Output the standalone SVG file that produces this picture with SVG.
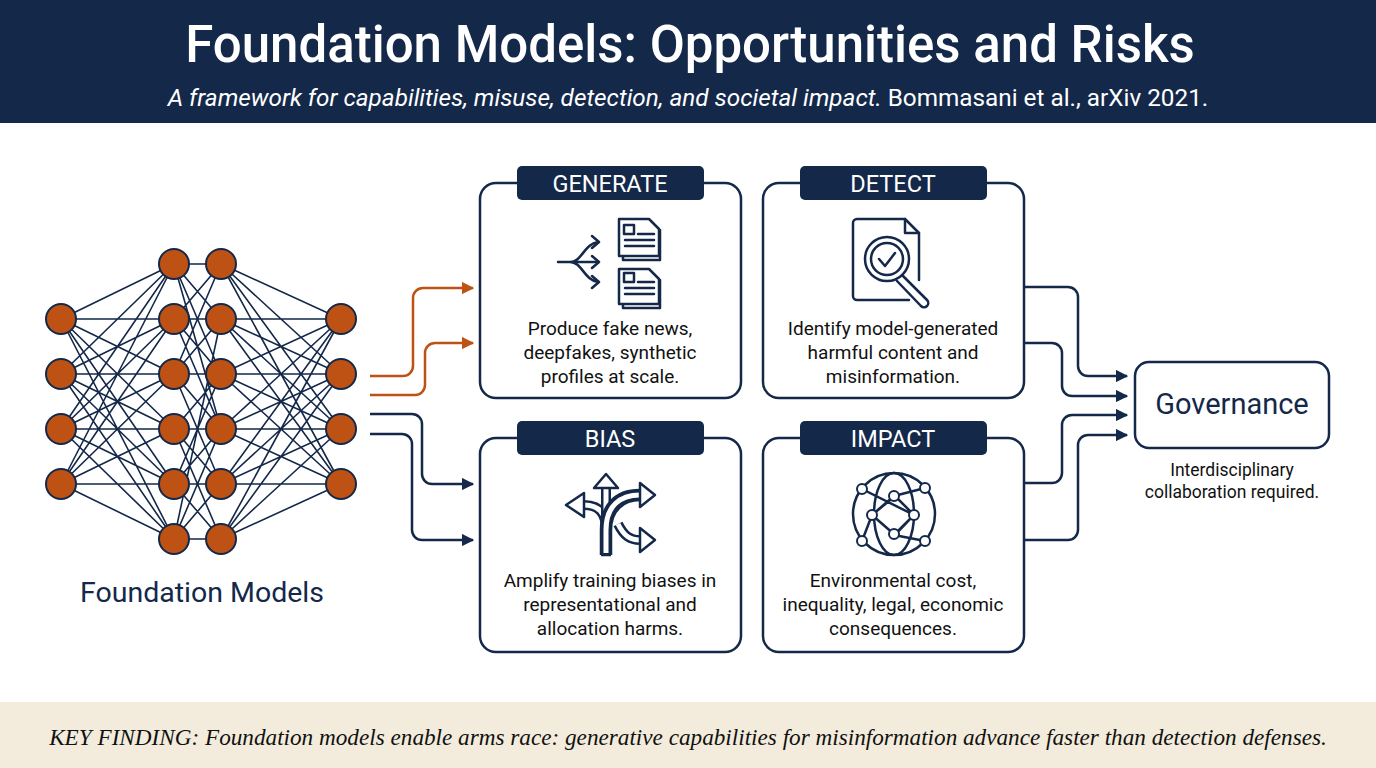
<svg xmlns="http://www.w3.org/2000/svg" width="1376" height="768" viewBox="0 0 1376 768">
<defs>
<style>
.t{font-family:Roboto,"Liberation Sans",sans-serif}
.box{fill:#fff;stroke:#14284a;stroke-width:2.5}
.tab{fill:#14284a}
.tabt{font-family:Roboto,"Liberation Sans",sans-serif;font-size:23.5px;fill:#fff;text-anchor:middle}
.body{font-family:Roboto,"Liberation Sans",sans-serif;font-size:19px;fill:#111;text-anchor:middle}
.ic{fill:none;stroke:#14284a;stroke-width:2.5;stroke-linejoin:round;stroke-linecap:round}
.nl{stroke:#14284a;stroke-width:1.6}
.nd{fill:#bd5214;stroke:#14284a;stroke-width:2}
.cn{fill:none;stroke:#14284a;stroke-width:2.5}
.co{fill:none;stroke:#bd5214;stroke-width:2.5}
.bo{fill:none;stroke:#14284a;stroke-width:10}
.bi{fill:none;stroke:#fff;stroke-width:5}
.bh{fill:#fff;stroke:#14284a;stroke-width:2.5;stroke-linejoin:round}
</style>
<marker id="an" viewBox="0 0 10 10" refX="9" refY="5" markerWidth="5" markerHeight="5" orient="auto" markerUnits="strokeWidth"><path d="M0,0L10,5L0,10z" fill="#14284a"/></marker>
<marker id="ao" viewBox="0 0 10 10" refX="9" refY="5" markerWidth="5" markerHeight="5" orient="auto" markerUnits="strokeWidth"><path d="M0,0L10,5L0,10z" fill="#bd5214"/></marker>
</defs>
<rect width="1376" height="768" fill="#fff"/>
<rect width="1376" height="123" fill="#14284a"/>
<text class="t" x="690" y="62" font-size="51" font-weight="500" fill="#fff" text-anchor="middle">Foundation Models: Opportunities and Risks</text>
<text class="t" x="688" y="106" font-size="24.3" fill="#fff" text-anchor="middle"><tspan font-style="italic">A framework for capabilities, misuse, detection, and societal impact.</tspan> Bommasani et al., arXiv 2021.</text>
<rect y="702" width="1376" height="66" fill="#f3ecdc"/>
<text x="688" y="745" font-family="'Liberation Serif',serif" font-style="italic" font-size="23.2" fill="#111" text-anchor="middle">KEY FINDING: Foundation models enable arms race: generative capabilities for misinformation advance faster than detection defenses.</text>

<g id="network">
<g>
<path class="nl" d="M61,319L174,264M61,319L174,319M61,319L174,374M61,319L174,429M61,319L174,484M61,319L174,539M61,374L174,264M61,374L174,319M61,374L174,374M61,374L174,429M61,374L174,484M61,374L174,539M61,429L174,264M61,429L174,319M61,429L174,374M61,429L174,429M61,429L174,484M61,429L174,539M61,484L174,264M61,484L174,319M61,484L174,374M61,484L174,429M61,484L174,484M61,484L174,539"/>
<path class="nl" d="M174,264L221,264M174,264L221,319M174,264L221,374M174,319L221,264M174,319L221,319M174,319L221,374M174,319L221,429M174,374L221,319M174,374L221,374M174,374L221,429M174,374L221,484M174,374L221,264M174,429L221,374M174,429L221,429M174,429L221,484M174,429L221,539M174,484L221,429M174,484L221,484M174,484L221,539M174,484L221,374M174,539L221,539M174,539L221,484M174,539L221,429M174,264L221,429M174,539L221,319"/>
<path class="nl" d="M341,319L221,264M341,319L221,319M341,319L221,374M341,319L221,429M341,319L221,484M341,319L221,539M341,374L221,264M341,374L221,319M341,374L221,374M341,374L221,429M341,374L221,484M341,374L221,539M341,429L221,264M341,429L221,319M341,429L221,374M341,429L221,429M341,429L221,484M341,429L221,539M341,484L221,264M341,484L221,319M341,484L221,374M341,484L221,429M341,484L221,484M341,484L221,539"/>
</g>
<g>
<circle class="nd" cx="61" cy="319" r="15"/><circle class="nd" cx="61" cy="374" r="15"/><circle class="nd" cx="61" cy="429" r="15"/><circle class="nd" cx="61" cy="484" r="15"/>
<circle class="nd" cx="174" cy="264" r="15"/><circle class="nd" cx="174" cy="319" r="15"/><circle class="nd" cx="174" cy="374" r="15"/><circle class="nd" cx="174" cy="429" r="15"/><circle class="nd" cx="174" cy="484" r="15"/><circle class="nd" cx="174" cy="539" r="15"/>
<circle class="nd" cx="221" cy="264" r="15"/><circle class="nd" cx="221" cy="319" r="15"/><circle class="nd" cx="221" cy="374" r="15"/><circle class="nd" cx="221" cy="429" r="15"/><circle class="nd" cx="221" cy="484" r="15"/><circle class="nd" cx="221" cy="539" r="15"/>
<circle class="nd" cx="341" cy="319" r="15"/><circle class="nd" cx="341" cy="374" r="15"/><circle class="nd" cx="341" cy="429" r="15"/><circle class="nd" cx="341" cy="484" r="15"/>
</g>
<text class="t" x="202" y="602" font-size="28.5" fill="#14284a" text-anchor="middle">Foundation Models</text>
</g>

<g id="connectors">
<path class="co" d="M370,376H403a10,10 0 0 0 10,-10V298a10,10 0 0 1 10,-10H473" marker-end="url(#ao)"/>
<path class="co" d="M370,395H415a10,10 0 0 0 10,-10V353a10,10 0 0 1 10,-10H473" marker-end="url(#ao)"/>
<path class="cn" d="M370,414H412a10,10 0 0 1 10,10V474a10,10 0 0 0 10,10H473" marker-end="url(#an)"/>
<path class="cn" d="M370,434H402a10,10 0 0 1 10,10V530a10,10 0 0 0 10,10H473" marker-end="url(#an)"/>
<path class="cn" d="M1024,287H1068a10,10 0 0 1 10,10V366a10,10 0 0 0 10,10H1127" marker-end="url(#an)"/>
<path class="cn" d="M1024,343H1052a10,10 0 0 1 10,10V386a10,10 0 0 0 10,10H1127" marker-end="url(#an)"/>
<path class="cn" d="M1024,483H1052a10,10 0 0 0 10,-10V425a10,10 0 0 1 10,-10H1127" marker-end="url(#an)"/>
<path class="cn" d="M1024,540H1068a10,10 0 0 0 10,-10V445a10,10 0 0 1 10,-10H1127" marker-end="url(#an)"/>
</g>

<g id="generate">
<rect class="box" x="480" y="183" width="261" height="215" rx="16"/>
<rect class="tab" x="517" y="166" width="187" height="34" rx="5"/>
<text class="tabt" x="610" y="192">GENERATE</text>
<g class="ic">
<path d="M558,262H570C582,262 584,244 598,242M570,262H598M570,262C582,262 584,280 598,282"/>
<path d="M592,236L599,242L592,248M592,256L599,262L592,268M592,276L599,282L592,288"/>
<path d="M619,219H649L659,229V256H619Z M623,257V260H660V230"/>
<rect x="624" y="225" width="10" height="9"/><path d="M638,234H654M625,240H654M625,246H654"/>
<path d="M619,269H649L659,279V304H619Z M623,305V308H660V280"/>
<rect x="624" y="273" width="10" height="9"/><path d="M638,282H654M625,288H654M625,294H654"/>
</g>
<text class="body" x="610" y="335">Produce fake news,</text>
<text class="body" x="610" y="359">deepfakes, synthetic</text>
<text class="body" x="610" y="383">profiles at scale.</text>
</g>

<g id="detect">
<rect class="box" x="763" y="183" width="261" height="215" rx="16"/>
<rect class="tab" x="800" y="166" width="187" height="34" rx="5"/>
<text class="tabt" x="893" y="192">DETECT</text>
<g class="ic">
<path d="M909,300H857a4,4 0 0 1 -4,-4V223a4,4 0 0 1 4,-4H905L919,233V280"/>
<path d="M905,219V233H919"/>
<circle cx="887" cy="259" r="22"/><circle cx="887" cy="259" r="16"/>
<path d="M879,259L885,266L895,253"/>
<path d="M902,275L927,300a4,4 0 0 1 -6,6L897,281"/>
</g>
<text class="body" x="893" y="335">Identify model-generated</text>
<text class="body" x="893" y="359">harmful content and</text>
<text class="body" x="893" y="383">misinformation.</text>
</g>

<g id="bias">
<rect class="box" x="480" y="438" width="261" height="214" rx="16"/>
<rect class="tab" x="517" y="421" width="187" height="34" rx="5"/>
<text class="tabt" x="610" y="447">BIAS</text>
<path class="bo" d="M606,530C606,512 598,505 584,505"/>
<path class="bi" d="M606,530C606,512 598,505 584,505"/>
<path class="bo" d="M606,488V545"/>
<path class="bi" d="M606,488V545"/>
<path class="bo" d="M618,524C624,536 630,540 640,540"/>
<path class="bi" d="M618,524C624,536 630,540 640,540"/>
<path class="bo" d="M606,555V530C606,506 620,495 640,495"/>
<path class="bi" d="M606,553V530C606,506 620,495 640,495"/>
<path d="M601,555V530C601,506 614,490 640,490M611,555V530C611,510 624,500 640,500M601,555H611" fill="none" stroke="#14284a" stroke-width="2.5"/>
<polygon class="bh" points="594,488 606,474 618,488"/>
<polygon class="bh" points="584,493 566,505 584,517"/>
<polygon class="bh" points="640,483 655,495 640,507"/>
<polygon class="bh" points="640,528 655,540 640,552"/>
<text class="body" x="610" y="587">Amplify training biases in</text>
<text class="body" x="610" y="611">representational and</text>
<text class="body" x="610" y="635">allocation harms.</text>
</g>

<g id="impact">
<rect class="box" x="763" y="438" width="261" height="214" rx="16"/>
<rect class="tab" x="800" y="421" width="187" height="34" rx="5"/>
<text class="tabt" x="893" y="447">IMPACT</text>
<g class="ic">
<circle cx="894" cy="514" r="41"/>
<ellipse cx="894" cy="514" rx="20" ry="41"/>
<path d="M862,489L914,515L895,535L872,515L894,496L925,488M862,541L872,515L895,496L914,515L894,535L925,541"/>
</g>
<g fill="#fff" stroke="#14284a" stroke-width="2">
<circle cx="862" cy="489" r="5"/><circle cx="925" cy="488" r="5"/><circle cx="894" cy="496" r="5"/><circle cx="872" cy="515" r="5"/><circle cx="914" cy="515" r="5"/><circle cx="894" cy="534" r="5"/><circle cx="862" cy="541" r="5"/><circle cx="925" cy="541" r="5"/>
</g>
<text class="body" x="893" y="587">Environmental cost,</text>
<text class="body" x="893" y="611">inequality, legal, economic</text>
<text class="body" x="893" y="635">consequences.</text>
</g>

<g id="governance">
<rect class="box" x="1135" y="362" width="194" height="86" rx="14"/>
<text class="t" x="1232" y="414" font-size="29" fill="#14284a" text-anchor="middle">Governance</text>
<text class="body" x="1232" y="476" style="font-size:17.5px">Interdisciplinary</text>
<text class="body" x="1232" y="498" style="font-size:17.5px">collaboration required.</text>
</g>
</svg>
